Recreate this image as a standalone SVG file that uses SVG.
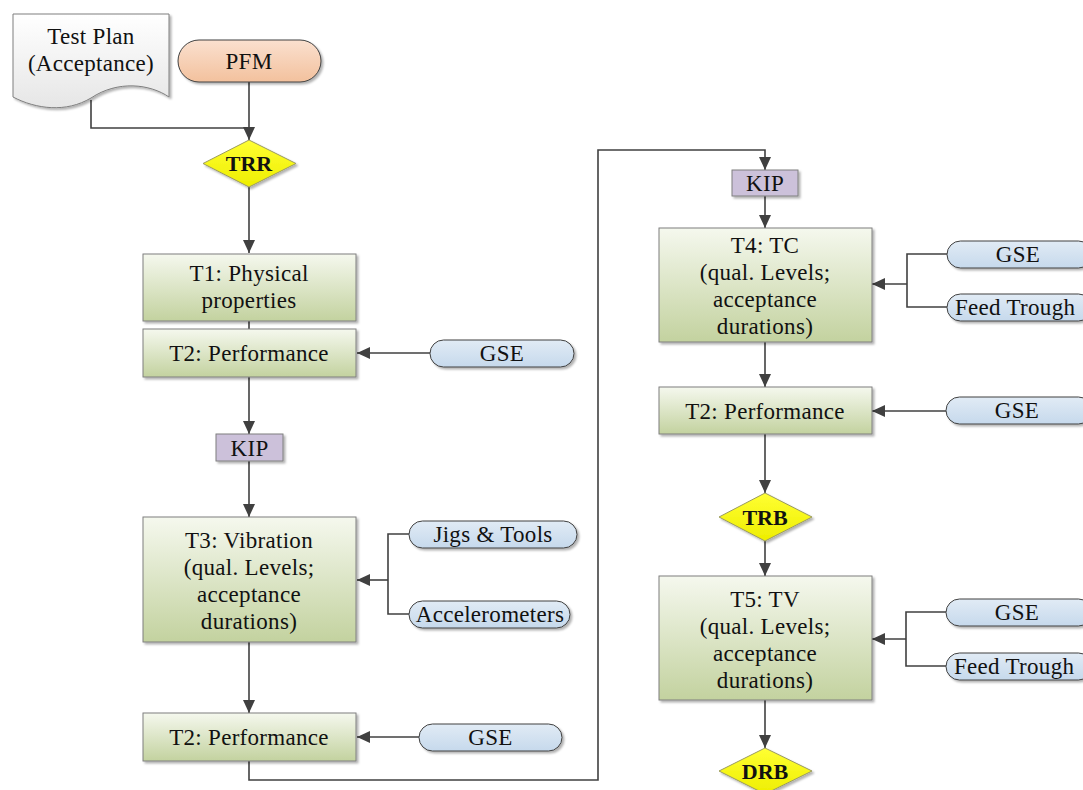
<svg xmlns="http://www.w3.org/2000/svg" width="1083" height="790" viewBox="0 0 1083 790">
<defs>
<linearGradient id="gBox" x1="0" y1="0" x2="0" y2="1"><stop offset="0" stop-color="#f5f8ee"/><stop offset="1" stop-color="#c3d29f"/></linearGradient>
<linearGradient id="gPill" x1="0" y1="0" x2="0" y2="1"><stop offset="0" stop-color="#e1ebf5"/><stop offset="1" stop-color="#c6d9ec"/></linearGradient>
<linearGradient id="gPfm" x1="0" y1="0" x2="0" y2="1"><stop offset="0" stop-color="#fae0cf"/><stop offset="1" stop-color="#f3c19d"/></linearGradient>
<linearGradient id="gDoc" x1="0" y1="0" x2="0" y2="1"><stop offset="0" stop-color="#ffffff"/><stop offset="1" stop-color="#e6e6e6"/></linearGradient>
<linearGradient id="gDia" x1="0" y1="0" x2="0" y2="1"><stop offset="0" stop-color="#ffff33"/><stop offset="1" stop-color="#eeee00"/></linearGradient>
<filter id="sh" x="-10%" y="-10%" width="130%" height="140%"><feDropShadow dx="2" dy="2" stdDeviation="1.2" flood-color="#000" flood-opacity="0.3"/></filter>
<marker id="arr" markerUnits="userSpaceOnUse" markerWidth="14" markerHeight="14" viewBox="0 0 14 14" refX="13" refY="7" orient="auto"><path d="M0 1 L13 7 L0 13 Z" fill="#404040"/></marker>
<style>
.box{fill:url(#gBox);stroke:#7f7f7f;stroke-width:1;filter:url(#sh)}
.pill{fill:url(#gPill);stroke:#404040;stroke-width:1;filter:url(#sh)}
.kip{fill:#ccc1da;stroke:#7f7f7f;stroke-width:1;filter:url(#sh)}
.dia{fill:url(#gDia);stroke:#9a9a60;stroke-width:1;filter:url(#sh)}
.t{font-family:"Liberation Serif","DejaVu Serif",serif;font-size:23px;letter-spacing:0.3px;fill:#111;text-anchor:middle}
.s{text-anchor:start}
.b{font-family:"Liberation Serif","DejaVu Serif",serif;font-size:22px;font-weight:bold;fill:#111;text-anchor:middle}
.c{fill:none;stroke:#404040;stroke-width:1.6}
.a{marker-end:url(#arr)}
</style>
</defs>

<g id="connectors">
<path class="c a" d="M249 82 V140"/>
<path class="c" d="M91 100 V128 H249"/>
<path class="c a" d="M249 187 V253"/>
<path class="c" d="M249 321 V329"/>
<path class="c a" d="M430 353 H357"/>
<path class="c a" d="M249 377 V434"/>
<path class="c a" d="M249 461 V517"/>
<path class="c" d="M409 534 H388 V614 H409"/>
<path class="c a" d="M388 580 H357"/>
<path class="c a" d="M249 642 V713"/>
<path class="c a" d="M419 737 H357"/>
<path class="c a" d="M249 761 V780 H598 V150 H765 V170"/>
<path class="c a" d="M765 196 V228"/>
<path class="c" d="M947 254 H907 V307 H947"/>
<path class="c a" d="M907 284 H872"/>
<path class="c a" d="M765 342 V387"/>
<path class="c a" d="M946 411 H872"/>
<path class="c a" d="M765 434 V493"/>
<path class="c a" d="M765 541 V576"/>
<path class="c" d="M946 612 H906 V666 H946"/>
<path class="c a" d="M906 639 H872"/>
<path class="c a" d="M765 700 V748"/>
</g>

<g id="testplan">
<path d="M13 14 H169 V97 C150 84 118 80 91 98 C66 113 36 109 13 97 Z" fill="url(#gDoc)" stroke="#7f7f7f" stroke-width="1" filter="url(#sh)"/>
<text class="t" x="91" y="44">Test Plan</text>
<text class="t" x="91" y="71">(Acceptance)</text>
</g>
<g id="pfm">
<rect x="178" y="40" width="143" height="42" rx="21" fill="url(#gPfm)" stroke="#404040" stroke-width="1" filter="url(#sh)"/>
<text class="t" x="249" y="69">PFM</text>
</g>
<g id="trr">
<path class="dia" d="M249 140 L296 163.5 L249 187 L203 163.5 Z"/>
<text class="b" x="249" y="171">TRR</text>
</g>
<g id="t1">
<rect class="box" x="143" y="254" width="213" height="67"/>
<text class="t" x="249" y="281">T1: Physical</text>
<text class="t" x="249" y="308">properties</text>
</g>
<g id="t2a">
<rect class="box" x="143" y="329" width="213" height="48"/>
<text class="t" x="249" y="361">T2: Performance</text>
</g>
<g id="gse1">
<rect class="pill" x="430" y="340" width="144" height="27" rx="13.5"/>
<text class="t" x="502" y="361">GSE</text>
</g>
<g id="kip1">
<rect class="kip" x="216" y="434" width="67" height="27"/>
<text class="t" x="249.5" y="456">KIP</text>
</g>
<g id="t3">
<rect class="box" x="143" y="517" width="213" height="125"/>
<text class="t" x="249" y="548">T3: Vibration</text>
<text class="t" x="249" y="575">(qual. Levels;</text>
<text class="t" x="249" y="602">acceptance</text>
<text class="t" x="249" y="629">durations)</text>
</g>
<g id="jigs">
<rect class="pill" x="409" y="521" width="168" height="27" rx="13.5"/>
<text class="t" x="493" y="542">Jigs &amp; Tools</text>
</g>
<g id="accel">
<rect class="pill" x="409" y="601" width="161" height="27" rx="13.5"/>
<text class="t" x="490" y="622">Accelerometers</text>
</g>
<g id="t2b">
<rect class="box" x="143" y="713" width="213" height="48"/>
<text class="t" x="249" y="745">T2: Performance</text>
</g>
<g id="gse2">
<rect class="pill" x="419" y="724" width="143" height="27" rx="13.5"/>
<text class="t" x="490.5" y="745">GSE</text>
</g>

<g id="kip2">
<rect class="kip" x="732" y="170" width="66" height="26"/>
<text class="t" x="765" y="191">KIP</text>
</g>
<g id="t4">
<rect class="box" x="659" y="228" width="213" height="114"/>
<text class="t" x="765" y="253">T4: TC</text>
<text class="t" x="765" y="280">(qual. Levels;</text>
<text class="t" x="765" y="307">acceptance</text>
<text class="t" x="765" y="334">durations)</text>
</g>
<g id="gse3">
<rect class="pill" x="947" y="241" width="145" height="27" rx="13.5"/>
<text class="t" x="1018" y="262">GSE</text>
</g>
<g id="feed1">
<rect class="pill" x="947" y="294" width="145" height="27" rx="13.5"/>
<text class="t s" x="955" y="315">Feed Trough</text>
</g>
<g id="t2c">
<rect class="box" x="659" y="387" width="213" height="47"/>
<text class="t" x="765" y="419">T2: Performance</text>
</g>
<g id="gse4">
<rect class="pill" x="946" y="397" width="146" height="27" rx="13.5"/>
<text class="t" x="1017" y="418">GSE</text>
</g>
<g id="trb">
<path class="dia" d="M765 493 L812 517 L765 541 L719 517 Z"/>
<text class="b" x="765" y="525">TRB</text>
</g>
<g id="t5">
<rect class="box" x="659" y="576" width="213" height="124"/>
<text class="t" x="765" y="607">T5: TV</text>
<text class="t" x="765" y="634">(qual. Levels;</text>
<text class="t" x="765" y="661">acceptance</text>
<text class="t" x="765" y="688">durations)</text>
</g>
<g id="gse5">
<rect class="pill" x="946" y="599" width="146" height="27" rx="13.5"/>
<text class="t" x="1017" y="620">GSE</text>
</g>
<g id="feed2">
<rect class="pill" x="946" y="653" width="146" height="27" rx="13.5"/>
<text class="t s" x="954" y="674">Feed Trough</text>
</g>
<g id="drb">
<path class="dia" d="M765 748 L812 771 L765 794 L719 771 Z"/>
<text class="b" x="765" y="779">DRB</text>
</g>
</svg>
